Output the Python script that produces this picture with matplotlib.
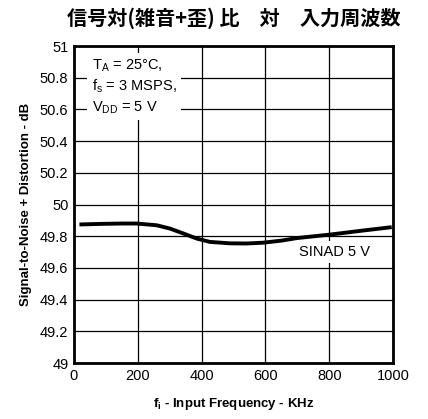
import numpy as np
import matplotlib.pyplot as plt

# SINAD vs input frequency
freq_khz = [17, 92, 150, 196, 259, 301, 343, 385, 426, 489, 540, 593, 650, 698, 750, 802, 907, 996]
sinad_db = [49.874, 49.878, 49.880, 49.880, 49.869, 49.848, 49.817, 49.785, 49.764, 49.755, 49.754, 49.759, 49.772, 49.788, 49.799, 49.810, 49.836, 49.857]

x_ticks = [0, 200, 400, 600, 800, 1000]
y_ticks = [49, 49.2, 49.4, 49.6, 49.8, 50, 50.2, 50.4, 50.6, 50.8, 51]
y_tick_labels = ['49', '49.2', '49.4', '49.6', '49.8', '50', '50.2', '50.4', '50.6', '50.8', '51']

plt.rcParams['font.family'] = ['Liberation Sans', 'DejaVu Sans']

fig = plt.figure(figsize=(4.28, 4.19), dpi=100)
ax = fig.add_axes([74 / 428, 1 - 363 / 419, 319 / 428, 317 / 419])

ax.plot(freq_khz, sinad_db, color='black', linewidth=2.8, solid_capstyle='butt')

ax.set_xlim(0, 1000)
ax.set_ylim(49, 51)
ax.set_xticks(x_ticks)
ax.set_yticks(y_ticks)
ax.set_yticklabels(y_tick_labels)
ax.grid(True, color='black', linewidth=0.9)
ax.tick_params(length=0, labelsize=10.5, pad=4)
for s in ax.spines.values():
    s.set_linewidth(2)

ax.set_xlabel('f$_\\mathregular{i}$ - Input Frequency - KHz', fontsize=9.5, fontweight='bold', labelpad=10)
ax.set_ylabel('Signal-to-Noise + Distortion - dB', fontsize=9.5, fontweight='bold', labelpad=6)

ax.text(55, 50.93, 'T$_\\mathregular{A}$ = 25°C,\nf$_\\mathregular{s}$ = 3 MSPS,\nV$_\\mathregular{DD}$ = 5 V',
        fontsize=10.5, va='top', ha='left', linespacing=1.3,
        bbox=dict(facecolor='white', edgecolor='none', pad=3))
ax.text(705, 49.7, 'SINAD 5 V', fontsize=10.5, va='center', ha='left',
        bbox=dict(facecolor='white', edgecolor='none', pad=3))

fig.text(0.545, 0.957, '信号対(雑音+歪) 比　対　入力周波数', fontsize=14.5, fontweight='bold',
         ha='center', va='center', family=['Noto Sans CJK JP', 'DejaVu Sans'])

fig.savefig('out.png', dpi=100)
